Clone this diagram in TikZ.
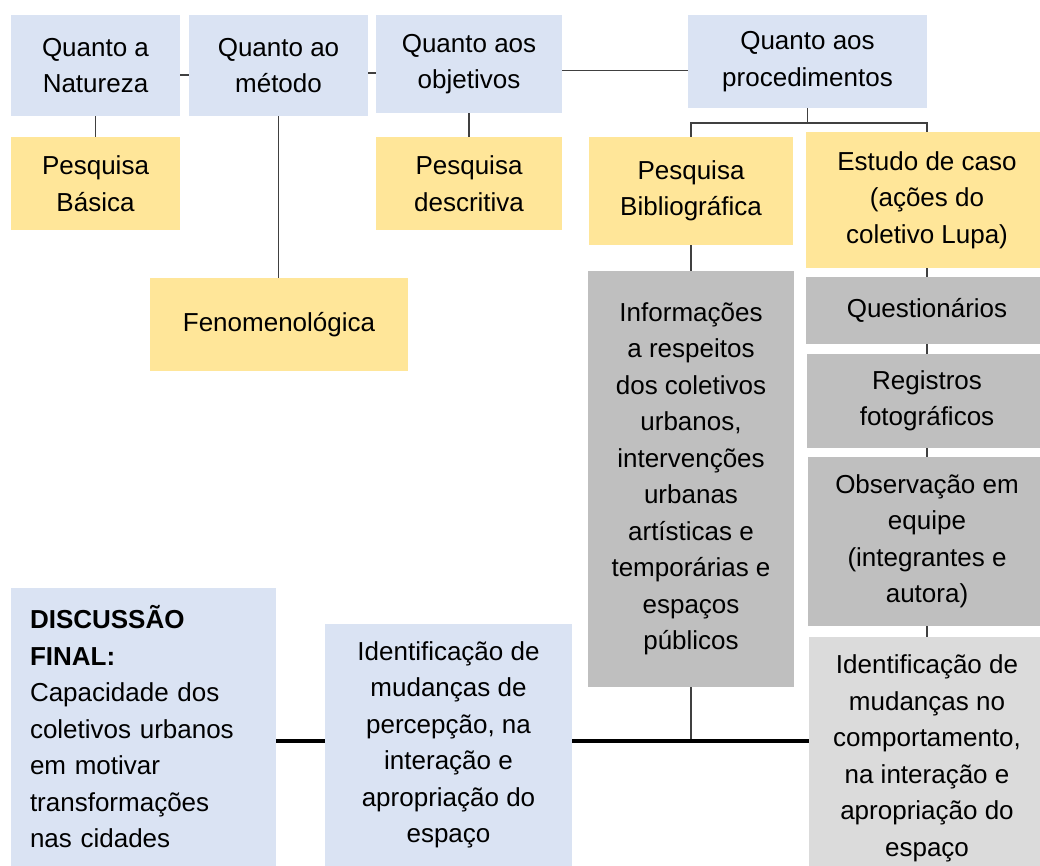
\documentclass[tikz,border=0pt]{standalone}
\usepackage{fontspec}
\setmainfont{Liberation Sans}
\definecolor{caixaazul}{HTML}{DAE3F3}
\definecolor{caixaamarela}{HTML}{FFE699}
\definecolor{caixacinza}{HTML}{BFBFBF}
\definecolor{caixaclara}{HTML}{DBDBDB}
\definecolor{linha}{HTML}{404040}

\begin{document}
\begin{tikzpicture}[x=1pt,y=-1pt,
  box/.style={rectangle,inner sep=0pt,align=center,font=\fontsize{26}{36.5}\selectfont},
  azul/.style={box,fill=caixaazul},
  amarelo/.style={box,fill=caixaamarela},
  cinza/.style={box,fill=caixacinza},
  claro/.style={box,fill=caixaclara},
  link/.style={draw=linha,line width=1.3pt},
  bus/.style={draw=black,line width=4pt}]
\useasboundingbox (0,0) rectangle (1040,865);
\clip (0,0) rectangle (1040,865);
% linha de cima
\node[azul,minimum width=169pt,minimum height=101pt] (nat) at (95.5,65.5) {Quanto a\\Natureza};
\node[azul,minimum width=179pt,minimum height=101pt] (met) at (278.5,65.5) {Quanto ao\\método};
\node[azul,minimum width=186pt,minimum height=98pt] (obj) at (469,64) {Quanto aos\\objetivos};
\node[azul,minimum width=239pt,minimum height=93pt] (proc) at (807.5,61.5) {Quanto aos\\procedimentos};
% tipos
\node[amarelo,minimum width=169pt,minimum height=93pt] (basica) at (95.5,183.5) {Pesquisa\\Básica};
\node[amarelo,minimum width=186pt,minimum height=93pt] (descr) at (469,183.5) {Pesquisa\\descritiva};
\node[amarelo,minimum width=258pt,minimum height=93pt] (fen) at (279,324.5) {Fenomenológica};
\node[amarelo,minimum width=204pt,minimum height=108pt] (bib) at (691,191) {Pesquisa\\Bibliográfica};
\node[amarelo,minimum width=242pt,minimum height=136pt] (caso) at (927,200) {Estudo de caso\\(ações do\\coletivo Lupa)};
% instrumentos
\node[cinza,minimum width=206pt,minimum height=416pt] (info) at (691,479) {Informações\\a respeitos\\dos coletivos\\urbanos,\\intervenções\\urbanas\\artísticas e\\temporárias e\\espaços\\públicos};
\node[cinza,minimum width=242pt,minimum height=67pt] (quest) at (927,310.5) {Questionários};
\node[cinza,minimum width=240pt,minimum height=94pt] (reg) at (927,401) {Registros\\fotográficos};
\node[cinza,minimum width=238pt,minimum height=169pt] (obs) at (927,541.5) {Observação em\\equipe\\(integrantes e\\autora)};
% resultados
\node[claro,minimum width=236pt,minimum height=243pt] (idcomp) at (927,758.5) {Identificação de\\mudanças no\\comportamento,\\na interação e\\apropriação do\\espaço};
\node[azul,minimum width=247pt,minimum height=242pt] (idperc) at (448.5,745) {Identificação de\\mudanças de\\percepção, na\\interação e\\apropriação do\\espaço};
\node[azul,align=left,text width=227pt,minimum width=265pt,minimum height=278pt] (disc) at (143.5,727) {\textbf{DISCUSSÃO}\\\textbf{FINAL:}\\Capacidade dos\\coletivos urbanos\\em motivar\\transformações\\nas cidades};

\coordinate (r1) at (0,75);
\coordinate (r2) at (0,73);
\coordinate (r3) at (0,70.5);
\coordinate (fork) at (0,123);
\coordinate (barra) at (0,741);

\draw[link] (nat.east |- r1) -- (met.west |- r1);
\draw[link] (met.east |- r2) -- (obj.west |- r2);
\draw[link] (obj.east |- r3) -- (proc.west |- r3);
\draw[link] (nat.south) -- (basica.north);
\draw[link] (met.south) -- (met.south |- fen.north);
\draw[link] (obj.south) -- (descr.north);
\draw[link] (proc.south) -- (proc.south |- fork);
\draw[link] (bib.north) -- (bib.north |- fork) -- (caso.north |- fork) -- (caso.north);
\draw[link] (bib.south) -- (info.north);
\draw[link] (caso.south) -- (quest.north);
\draw[link] (quest.south) -- (reg.north);
\draw[link] (reg.south) -- (obs.north);
\draw[link] (obs.south) -- (idcomp.north);
\draw[link] (info.south) -- (info.south |- barra);
\draw[bus] (disc.east |- barra) -- (idperc.west |- barra);
\draw[bus] (idperc.east |- barra) -- (idcomp.west |- barra);
\end{tikzpicture}
\end{document}
